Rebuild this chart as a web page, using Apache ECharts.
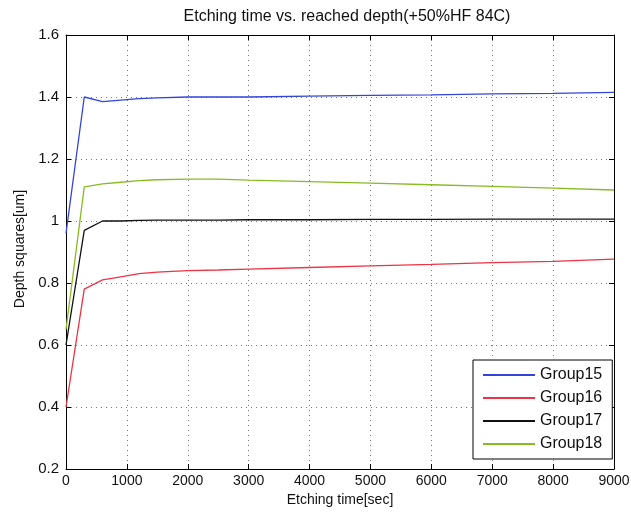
<!DOCTYPE html>
<html>
<head>
<meta charset="utf-8">
<script src="https://cdn.jsdelivr.net/npm/echarts@6/dist/echarts.min.js"></script>
<style>
  html, body { margin: 0; padding: 0; background: #fff; }
  #chart { width: 631px; height: 518px; }
</style>
</head>
<body>
<div id="chart"></div>
<script>
// Etching time (sec)
const times = [0, 300, 600, 900, 1200, 1500, 2000, 2500, 3000, 4000, 5000, 6000, 7000, 8000, 9000];
// Depth squares [um] per group
const group15 = [0.96, 1.40, 1.385, 1.39, 1.395, 1.397, 1.40, 1.40, 1.40, 1.403, 1.405, 1.407, 1.41, 1.412, 1.415];
const group16 = [0.40, 0.78, 0.81, 0.82, 0.83, 0.835, 0.84, 0.842, 0.845, 0.85, 0.855, 0.86, 0.866, 0.87, 0.877];
const group17 = [0.60, 0.97, 1.0, 1.0, 1.002, 1.003, 1.003, 1.003, 1.004, 1.004, 1.005, 1.005, 1.006, 1.006, 1.006];
const group18 = [0.65, 1.11, 1.12, 1.125, 1.13, 1.133, 1.135, 1.135, 1.132, 1.127, 1.122, 1.117, 1.112, 1.106, 1.10];

const seriesNames = ["Group15", "Group16", "Group17", "Group18"];
const seriesData = [group15, group16, group17, group18];
const colors = ["#3344dd", "#ee3344", "#111111", "#88bb22"];

const font = "Liberation Sans, Arial, sans-serif";
const chart = echarts.init(document.getElementById("chart"));

const baseAxis = {
  axisLine: { show: true, onZero: false, lineStyle: { color: "#000", width: 1 } },
  axisTick: { show: true, inside: true, length: 5, lineStyle: { color: "#000" } },
};
const gridDots = { show: true, lineStyle: { color: "#777", type: [1, 4], width: 1 } };

chart.setOption({
  animation: false,
  backgroundColor: "#fff",
  title: {
    text: "Etching time vs. reached depth(+50%HF 84C)",
    left: 342,
    textAlign: "center",
    top: 4,
    textStyle: { fontFamily: font, fontSize: 16, fontWeight: "normal", color: "#111" },
  },
  grid: { left: 66, right: 17, top: 35, bottom: 49, outerBoundsMode: "none" },
  legend: {
    orient: "vertical",
    left: 473,
    top: 360,
    width: 136,
    padding: [7, 10, 7, 10],
    itemGap: 7,
    itemWidth: 52,
    itemHeight: 2,
    icon: "rect",
    backgroundColor: "#fff",
    borderColor: "#000",
    borderWidth: 1,
    textStyle: { fontFamily: font, fontSize: 16, color: "#111" },
    data: seriesNames,
  },
  xAxis: [
    {
      ...baseAxis,
      type: "value",
      min: 0,
      max: 9000,
      interval: 1000,
      name: "Etching time[sec]",
      nameLocation: "middle",
      nameGap: 23,
      nameTextStyle: { fontFamily: font, fontSize: 14, color: "#111" },
      axisLabel: { fontFamily: font, fontSize: 14, color: "#111", margin: 5, formatter: (v) => String(v) },
      splitLine: gridDots,
    },
    {
      ...baseAxis,
      type: "value",
      position: "top",
      min: 0,
      max: 9000,
      interval: 1000,
      axisLabel: { show: false },
      splitLine: { show: false },
    },
  ],
  yAxis: [
    {
      ...baseAxis,
      type: "value",
      min: 0.2,
      max: 1.6,
      interval: 0.2,
      name: "Depth squares[um]",
      nameLocation: "middle",
      nameGap: 34,
      nameTextStyle: { fontFamily: font, fontSize: 14, color: "#111", padding: [0, 0, 0, 6] },
      axisLabel: {
        fontFamily: font, fontSize: 15, color: "#111", margin: 7,
        formatter: (v) => String(Math.round(v * 10) / 10),
      },
      splitLine: gridDots,
    },
    {
      ...baseAxis,
      type: "value",
      position: "right",
      min: 0.2,
      max: 1.6,
      interval: 0.2,
      axisLabel: { show: false },
      splitLine: { show: false },
    },
  ],
  series: seriesNames.map((name, i) => ({
    name,
    type: "line",
    xAxisIndex: 0,
    yAxisIndex: 0,
    symbol: "none",
    color: colors[i],
    lineStyle: { color: colors[i], width: 1.3 },
    data: times.map((t, j) => [t, seriesData[i][j]]),
  })),
});
</script>
</body>
</html>
